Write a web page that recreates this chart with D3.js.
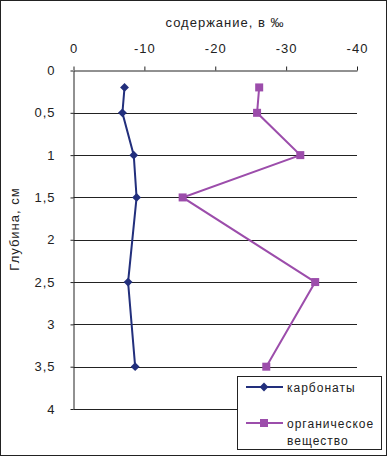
<!DOCTYPE html>
<meta charset="utf-8">
<script src="https://d3js.org/d3.v7.js"></script>
<style>
  body { margin: 0; background: #fff; }
  text { font-family: "Liberation Sans", Arial, sans-serif; letter-spacing: 1px; }
</style>
<div id="chart"></div>
<script>

// depth (cm) and content (‰)
var depths = [0.2, 0.5, 1, 1.5, 2.5, 3.5];
var carbonates = [-7.2, -6.9, -8.5, -8.9, -7.7, -8.7];
var organic = [-26.2, -25.9, -32.0, -15.4, -34.1, -27.2];
var xTicks = [0, -10, -20, -30, -40];
var yTicks = [0, 0.5, 1, 1.5, 2, 2.5, 3, 3.5, 4];
var seriesNames = ["карбонаты", "органическое вещество"];

var width = 387, height = 456;
var margin = {top: 70.5, left: 73.5, right: 30, bottom: 47};

var svg = d3.select("#chart").append("svg")
    .attr("width", width)
    .attr("height", height);

// outer frame
svg.append("rect")
    .attr("x", 0.5).attr("y", 0.5)
    .attr("width", width - 1).attr("height", height - 1)
    .attr("fill", "#fff").attr("stroke", "#222");

var x = d3.scaleLinear().domain([0, -40]).range([margin.left, 357]);
var y = d3.scaleLinear().domain([0, 4]).range([margin.top, 409]);

var fmt = function(d) { return String(d).replace(".", ","); };

// horizontal grid lines
svg.append("g")
  .selectAll("line")
  .data(yTicks.slice(1))
  .join("line")
    .attr("x1", x(0)).attr("x2", x(-40))
    .attr("y1", d => Math.round(y(d)) + 0.5)
    .attr("y2", d => Math.round(y(d)) + 0.5)
    .attr("stroke", "#222");

// top x axis
var gx = svg.append("g")
    .attr("transform", "translate(0," + margin.top + ")")
    .call(d3.axisTop(x).tickValues(xTicks).tickSize(4).tickPadding(14).tickSizeOuter(0)
      .tickFormat(d => d === 0 ? "0" : "-" + Math.abs(d)));
gx.select(".domain").attr("stroke", "#222");
gx.selectAll(".tick line").attr("stroke", "#222");
gx.selectAll("text").attr("font-size", 13).attr("fill", "#222")
    .attr("font-family", "Liberation Sans, Arial, sans-serif");

// left y axis
var gy = svg.append("g")
    .attr("transform", "translate(" + margin.left + ",0)")
    .call(d3.axisLeft(y).tickValues(yTicks).tickSize(3).tickPadding(15).tickSizeOuter(0)
      .tickFormat(fmt));
gy.select(".domain").attr("stroke", "#222");
gy.selectAll(".tick line").attr("stroke", "#222");
gy.selectAll("text").attr("font-size", 13).attr("fill", "#222")
    .attr("font-family", "Liberation Sans, Arial, sans-serif");

// axis titles
svg.append("text")
    .attr("x", 225).attr("y", 27)
    .attr("text-anchor", "middle")
    .attr("font-size", 13).attr("fill", "#222")
    .text("содержание, в ‰");

svg.append("text")
    .attr("transform", "translate(19,229) rotate(-90)")
    .attr("text-anchor", "middle")
    .attr("font-size", 13).attr("fill", "#222")
    .text("Глубина, см");

var line = d3.line()
    .x(d => x(d[0]))
    .y(d => y(d[1]));

var blue = "#222f7c", purple = "#9c4dab";

var carbPts = depths.map((d, i) => [carbonates[i], d]);
var orgPts = depths.map((d, i) => [organic[i], d]);

svg.append("path").datum(carbPts)
    .attr("d", line).attr("fill", "none")
    .attr("stroke", blue).attr("stroke-width", 2);
svg.append("path").datum(orgPts)
    .attr("d", line).attr("fill", "none")
    .attr("stroke", purple).attr("stroke-width", 2);

var diamond = d3.symbol().type(d3.symbolDiamond2).size(50);
svg.selectAll(".carb")
  .data(carbPts)
  .join("path")
    .attr("class", "carb")
    .attr("transform", d => "translate(" + x(d[0]) + "," + y(d[1]) + ")")
    .attr("d", diamond)
    .attr("fill", blue);

svg.selectAll(".org")
  .data(orgPts)
  .join("rect")
    .attr("class", "org")
    .attr("x", d => x(d[0]) - 4).attr("y", d => y(d[1]) - 4)
    .attr("width", 8).attr("height", 8)
    .attr("fill", purple);

// legend
var lg = svg.append("g");
lg.append("rect")
    .attr("x", 237.5).attr("y", 376.5)
    .attr("width", 144).attr("height", 73)
    .attr("fill", "#fff").attr("stroke", "#222");

lg.append("line").attr("x1", 246).attr("x2", 283).attr("y1", 387).attr("y2", 387)
    .attr("stroke", blue).attr("stroke-width", 2);
lg.append("path").attr("transform", "translate(264,387)").attr("d", diamond).attr("fill", blue);
lg.append("text").attr("x", 287).attr("y", 392)
    .attr("font-size", 12).attr("fill", "#222").text(seriesNames[0]);

lg.append("line").attr("x1", 246).attr("x2", 283).attr("y1", 423).attr("y2", 423)
    .attr("stroke", purple).attr("stroke-width", 2);
lg.append("rect").attr("x", 260).attr("y", 419).attr("width", 8).attr("height", 8).attr("fill", purple);
lg.append("text").attr("x", 287).attr("y", 428)
    .attr("font-size", 12).attr("fill", "#222").text("органическое");
lg.append("text").attr("x", 287).attr("y", 445)
    .attr("font-size", 12).attr("fill", "#222").text("вещество");

</script>
